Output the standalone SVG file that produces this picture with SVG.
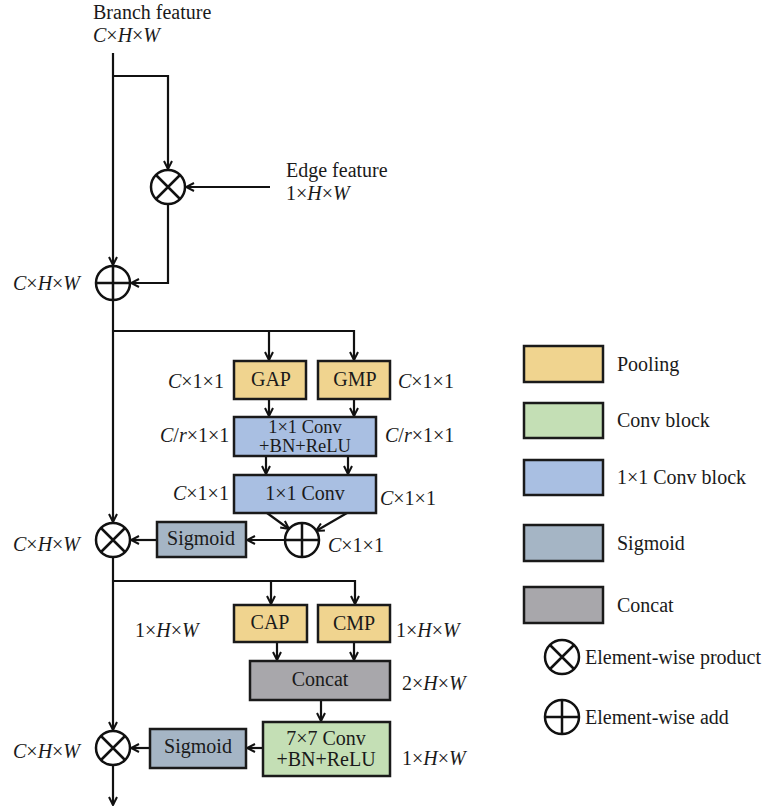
<svg xmlns="http://www.w3.org/2000/svg" width="771" height="807" viewBox="0 0 771 807" font-family="'Liberation Serif', 'Times New Roman', 'DejaVu Serif', serif">
<style>
text{font-family:'Liberation Serif','Times New Roman','DejaVu Serif',serif;font-size:20px;fill:#1a1a1a}
.i{font-style:italic}
.c{text-anchor:middle}
.t2{font-size:18.5px}
.box{stroke:#1a1a1a;stroke-width:2.5}
.pool{fill:#F0D48F}
.conv{fill:#C4DFB5}
.c11{fill:#A9BFE2}
.sig{fill:#A5B5C5}
.cat{fill:#A8A7AB}
.op{fill:#fff;stroke:#111;stroke-width:2.5}
.ln{fill:none;stroke:#111;stroke-width:2.2}
</style>
<defs>
<marker id="ah" viewBox="0 0 10 10" refX="9" refY="5" markerWidth="10" markerHeight="10" markerUnits="userSpaceOnUse" orient="auto">
<path d="M1,1 L9,5 L1,9" fill="none" stroke="#111" stroke-width="2"/>
</marker>
<g id="otimes"><circle r="17" class="op"/><path d="M-12,-12 L12,12 M-12,12 L12,-12" stroke="#111" stroke-width="2.5"/></g>
<g id="oplus"><circle r="17" class="op"/><path d="M-17,0 H17 M0,-17 V17" stroke="#111" stroke-width="2.5"/></g>
</defs>
<rect width="771" height="807" fill="#fff"/>

<g id="connectors">
<path class="ln" d="M113,53 V265" marker-end="url(#ah)"/>
<path class="ln" d="M113,76 H168 V169" marker-end="url(#ah)"/>
<path class="ln" d="M270,187 H186" marker-end="url(#ah)"/>
<path class="ln" d="M168,204 V283 H131" marker-end="url(#ah)"/>
<path class="ln" d="M113,300 V522" marker-end="url(#ah)"/>
<path class="ln" d="M113,331 H354 V360" marker-end="url(#ah)"/>
<path class="ln" d="M269,331 V360" marker-end="url(#ah)"/>
<path class="ln" d="M269,399 V416" marker-end="url(#ah)"/>
<path class="ln" d="M354,399 V416" marker-end="url(#ah)"/>
<path class="ln" d="M266,456 V474" marker-end="url(#ah)"/>
<path class="ln" d="M348,456 V474" marker-end="url(#ah)"/>
<path class="ln" d="M267,513 L289,529" marker-end="url(#ah)"/>
<path class="ln" d="M347,513 L316,531" marker-end="url(#ah)"/>
<path class="ln" d="M285,540 H247" marker-end="url(#ah)"/>
<path class="ln" d="M157,540 H131" marker-end="url(#ah)"/>
<path class="ln" d="M113,557 V730" marker-end="url(#ah)"/>
<path class="ln" d="M113,581 H355 V604" marker-end="url(#ah)"/>
<path class="ln" d="M271,581 V604" marker-end="url(#ah)"/>
<path class="ln" d="M277,642 V660" marker-end="url(#ah)"/>
<path class="ln" d="M354,642 V660" marker-end="url(#ah)"/>
<path class="ln" d="M321,700 V721" marker-end="url(#ah)"/>
<path class="ln" d="M263,748 H247" marker-end="url(#ah)"/>
<path class="ln" d="M150,748 H131" marker-end="url(#ah)"/>
<path class="ln" d="M113,765 V805" marker-end="url(#ah)"/>
</g>

<g id="input-labels">
<text x="93" y="19">Branch feature</text>
<text x="93" y="42"><tspan class="i">C</tspan>×<tspan class="i">H</tspan>×<tspan class="i">W</tspan></text>
<text x="286" y="177">Edge feature</text>
<text x="286" y="200">1×<tspan class="i">H</tspan>×<tspan class="i">W</tspan></text>
</g>

<g id="mul1"><use href="#otimes" x="168" y="187"/></g>
<g id="add1"><use href="#oplus" x="113" y="283"/>
<text x="13" y="290"><tspan class="i">C</tspan>×<tspan class="i">H</tspan>×<tspan class="i">W</tspan></text></g>

<g id="gap"><rect class="box pool" x="234" y="361" width="72" height="38"/><text class="c" x="271" y="386">GAP</text>
<text x="168" y="388"><tspan class="i">C</tspan>×1×1</text></g>
<g id="gmp"><rect class="box pool" x="318" y="361" width="72" height="38"/><text class="c" x="355" y="386">GMP</text>
<text x="398" y="388"><tspan class="i">C</tspan>×1×1</text></g>
<g id="conv1"><rect class="box c11" x="234" y="417" width="142" height="39"/>
<text class="c t2" x="305" y="433">1×1 Conv</text><text class="c t2" x="305" y="452">+BN+ReLU</text>
<text x="160" y="442"><tspan class="i">C</tspan>/<tspan class="i">r</tspan>×1×1</text>
<text x="385" y="442"><tspan class="i">C</tspan>/<tspan class="i">r</tspan>×1×1</text></g>
<g id="conv2"><rect class="box c11" x="234" y="475" width="142" height="38"/>
<text class="c" x="305" y="500">1×1 Conv</text>
<text x="173" y="500"><tspan class="i">C</tspan>×1×1</text>
<text x="380" y="505"><tspan class="i">C</tspan>×1×1</text></g>
<g id="add2"><use href="#oplus" x="302" y="540"/><text x="328" y="552"><tspan class="i">C</tspan>×1×1</text></g>
<g id="sig1"><rect class="box sig" x="157" y="522" width="89" height="35"/><text class="c" x="201" y="545">Sigmoid</text></g>
<g id="mul2"><use href="#otimes" x="113" y="540"/>
<text x="13" y="551"><tspan class="i">C</tspan>×<tspan class="i">H</tspan>×<tspan class="i">W</tspan></text></g>

<g id="cap"><rect class="box pool" x="234" y="605" width="73" height="37"/><text class="c" x="270" y="629">CAP</text>
<text x="135" y="637">1×<tspan class="i">H</tspan>×<tspan class="i">W</tspan></text></g>
<g id="cmp"><rect class="box pool" x="318" y="605" width="72" height="37"/><text class="c" x="354" y="630">CMP</text>
<text x="396" y="637">1×<tspan class="i">H</tspan>×<tspan class="i">W</tspan></text></g>
<g id="concat"><rect class="box cat" x="250" y="661" width="140" height="39"/><text class="c" x="320" y="686">Concat</text>
<text x="402" y="690">2×<tspan class="i">H</tspan>×<tspan class="i">W</tspan></text></g>
<g id="conv7"><rect class="box conv" x="263" y="722" width="127" height="54"/>
<text class="c" x="326" y="745">7×7 Conv</text><text class="c" x="326" y="766">+BN+ReLU</text>
<text x="402" y="765">1×<tspan class="i">H</tspan>×<tspan class="i">W</tspan></text></g>
<g id="sig2"><rect class="box sig" x="150" y="729" width="96" height="39"/><text class="c" x="198" y="753">Sigmoid</text></g>
<g id="mul3"><use href="#otimes" x="113" y="748"/>
<text x="13" y="758"><tspan class="i">C</tspan>×<tspan class="i">H</tspan>×<tspan class="i">W</tspan></text></g>

<g id="legend">
<rect class="box pool" x="524" y="346" width="79" height="36"/><text x="617" y="371">Pooling</text>
<rect class="box conv" x="524" y="403" width="79" height="35"/><text x="617" y="427">Conv block</text>
<rect class="box c11" x="524" y="460" width="79" height="35"/><text x="617" y="484">1×1 Conv block</text>
<rect class="box sig" x="524" y="525" width="79" height="36"/><text x="617" y="550">Sigmoid</text>
<rect class="box cat" x="524" y="587" width="79" height="36"/><text x="617" y="612">Concat</text>
<use href="#otimes" x="562" y="657"/><text x="585" y="664">Element-wise product</text>
<use href="#oplus" x="562" y="717"/><text x="585" y="724">Element-wise add</text>
</g>
</svg>
